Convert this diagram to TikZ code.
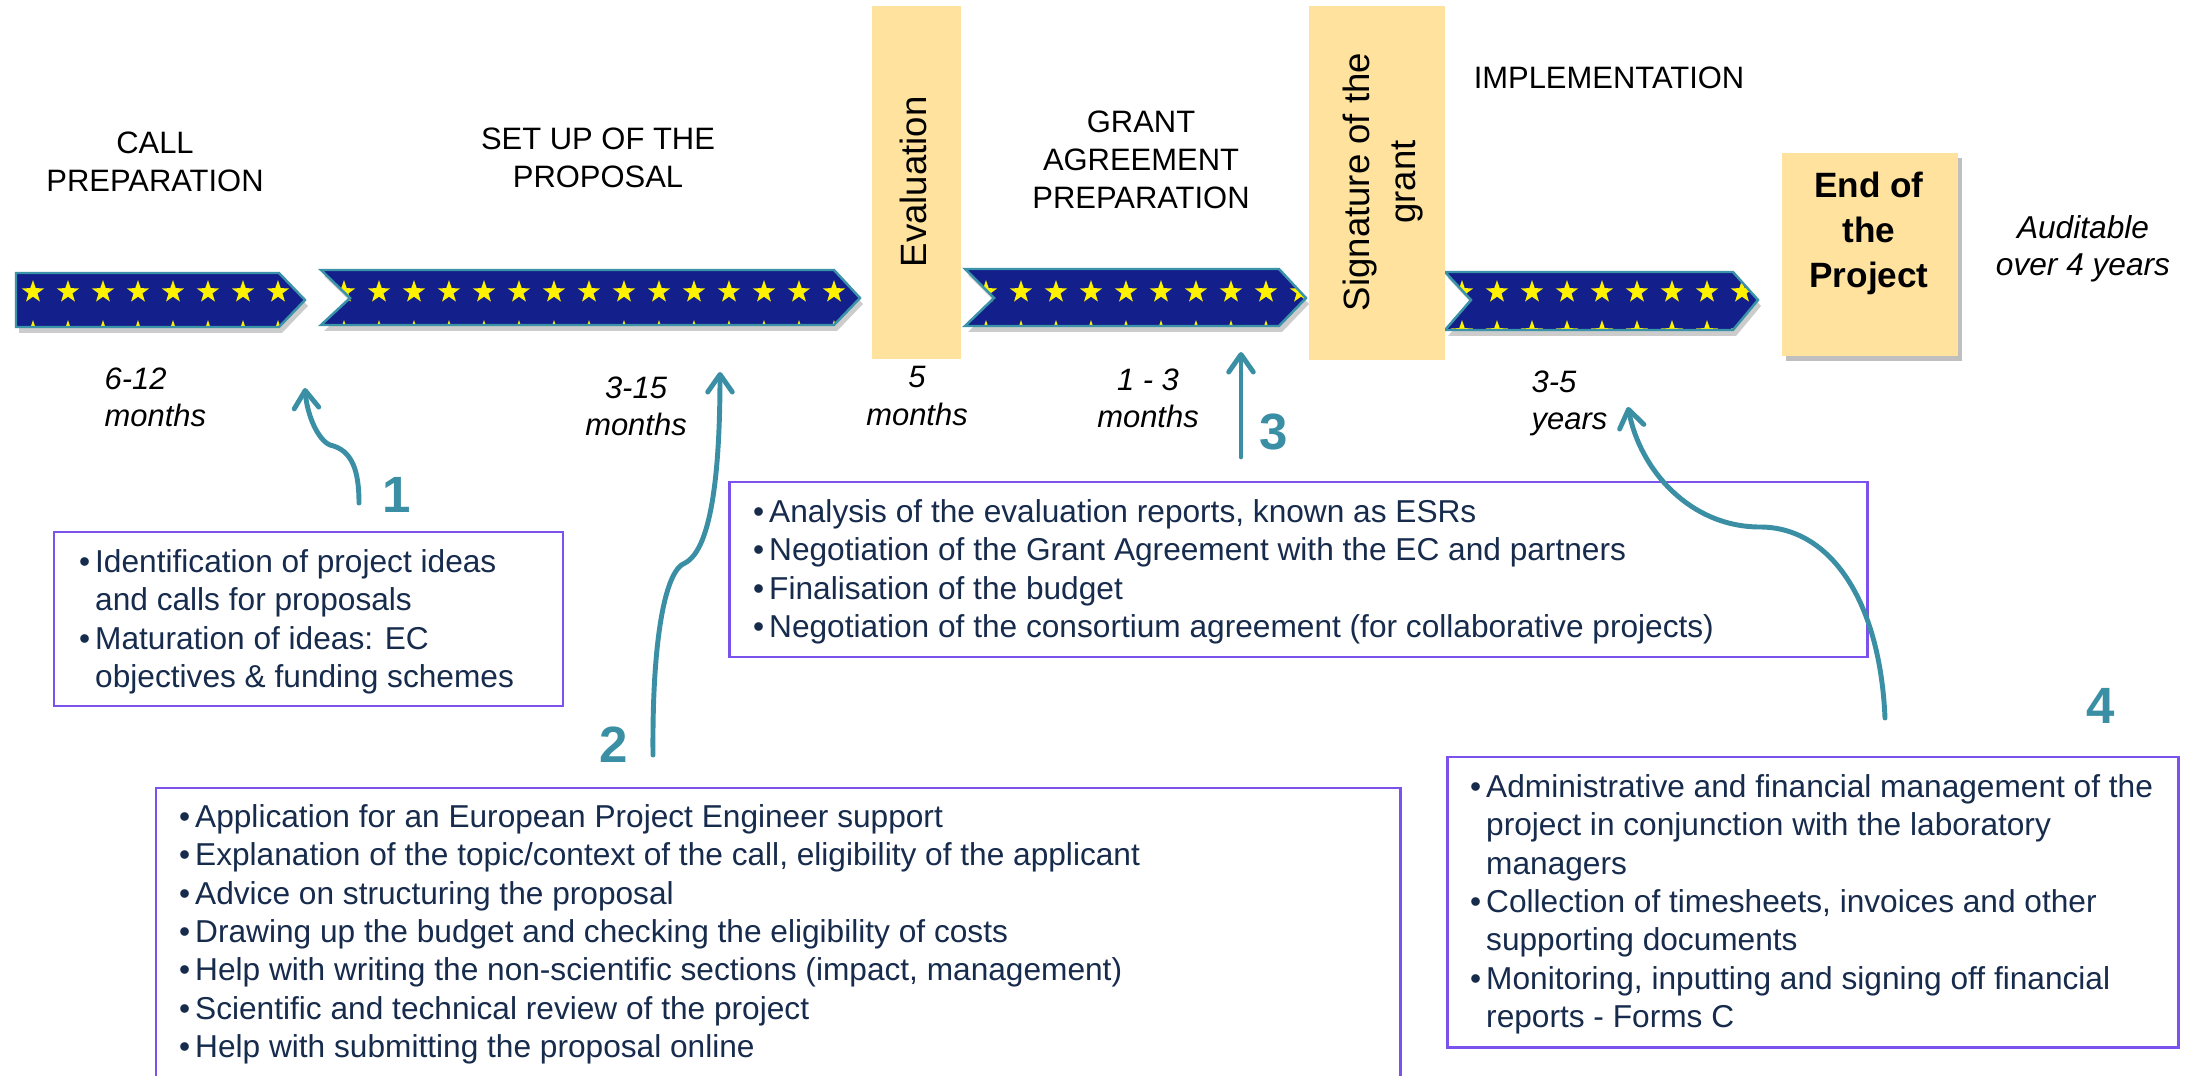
\documentclass[tikz,border=0pt]{standalone}
\usepackage{fontspec}
\setmainfont{Liberation Sans}
\usetikzlibrary{arrows.meta}
\definecolor{chevblue}{HTML}{131F8A}
\definecolor{chevedge}{HTML}{3A93A8}
\definecolor{staryel}{HTML}{FFF200}
\definecolor{boxyel}{HTML}{FFE29E}
\definecolor{purp}{HTML}{7B52EE}
\definecolor{navytxt}{HTML}{172B4D}
\definecolor{tealarr}{HTML}{3A8FA5}
\definecolor{tealdark}{HTML}{1F6F86}
\newcommand\fhead{\fontsize{8.8}{10.9}\selectfont}
\newcommand\fbody{\fontsize{9}{10.9}\selectfont}
\newcommand\fdur{\fontsize{8.8}{10.7}\selectfont\itshape}
\newcommand\frot{\fontsize{10.4}{13}\selectfont}
\newcommand\fendp{\fontsize{10}{12.8}\selectfont\bfseries}
\newcommand\faud{\fontsize{9}{10.5}\selectfont\itshape}
\newcommand\fnum{\fontsize{14.5}{14.5}\selectfont\bfseries}
\newcommand\bitem{\makebox[0.16cm][l]{\textbullet}}
\newcommand\bcont{\hspace*{0.16cm}}
\newcommand\eustar[2]{\fill[staryel] (#1,#2) +(90:0.118cm) -- +(126:0.047cm) -- +(162:0.118cm) -- +(198:0.047cm) -- +(234:0.118cm) -- +(270:0.047cm) -- +(306:0.118cm) -- +(342:0.047cm) -- +(18:0.118cm) -- +(54:0.047cm) -- cycle;}
% #1 left, #2 notch, #3 slant start, #4 tip, #5 top, #6 bottom, #7 mid, #8 first star x, #9 star count
\newcommand\drawchev[9]{%
  \begin{scope}[shift={(3,6)}]
    \fill[black,opacity=.2] (#1,#5) -- (#3,#5) -- (#4,#7) -- (#3,#6) -- (#1,#6) -- (#2,#7) -- cycle;
  \end{scope}
  \fill[chevblue] (#1,#5) -- (#3,#5) -- (#4,#7) -- (#3,#6) -- (#1,#6) -- (#2,#7) -- cycle;
  \begin{scope}
    \clip (#1,#5) -- (#3,#5) -- (#4,#7) -- (#3,#6) -- (#1,#6) -- (#2,#7) -- cycle;
    \foreach \k in {0,...,#9} {\pgfmathsetmacro\sx{#8+35*\k}\eustar{\sx}{292}\eustar{\sx}{332}}
  \end{scope}
  \draw[chevedge, line width=0.7pt, line join=miter] (#1,#5) -- (#3,#5) -- (#4,#7) -- (#3,#6) -- (#1,#6) -- (#2,#7) -- cycle;
}
\tikzset{
  ybox/.style={rectangle, fill=boxyel, draw=none, inner sep=0pt},
  head/.style={font=\fhead, align=center, inner sep=0pt, anchor=north},
  dur/.style={font=\fdur, align=center, inner sep=0pt, anchor=north},
  rotlbl/.style={font=\frot, rotate=90, align=center, inner sep=0pt},
  endlbl/.style={font=\fendp, align=center, inner sep=0pt, anchor=north},
  aud/.style={font=\faud, align=center, inner sep=0pt, anchor=north},
  num/.style={font=\fnum, text=tealarr, inner sep=0pt},
  pbox/.style={draw=purp, line width=0.85pt},
  btxt/.style={font=\fbody, text=navytxt, align=left, inner sep=0pt, anchor=north west},
  tarr/.style={draw=tealarr, line width=1.4pt, line cap=round, -{Straight Barb[length=5pt,width=7pt,round]}}
}
\begin{document}
\begin{tikzpicture}[x=0.01cm, y=-0.01cm]
\useasboundingbox (0,0) rectangle (2193,1076);
\fill[white] (0,0) rectangle (2193,1076);

% timeline chevrons
\drawchev{16}{16}{279}{305}{273}{327}{300}{33}{7}
\drawchev{321}{350}{834}{860}{270}{325}{298}{344}{14}
\drawchev{965}{994}{1279}{1306}{269}{326}{298}{986}{9}
\drawchev{1445}{1471}{1733}{1758}{272}{330}{300}{1462}{8}

% milestone boxes
\node[ybox, minimum width=0.89cm, minimum height=3.53cm, anchor=north west] (evalbox) at (871,5) {};
\node[rotlbl] (evaltxt) at (913,182) {Evaluation};
\node[ybox, minimum width=1.36cm, minimum height=3.54cm, anchor=north west] (signbox) at (1308,5) {};
\node[rotlbl] (signtxt) at (1383,182) {Signature of the\\grant};
\fill[black, opacity=.25] (1786,158) rectangle (1962,361);
\node[ybox, minimum width=1.76cm, minimum height=2.03cm, anchor=north west] (endbox) at (1781,152) {};
\node[endlbl] (endtxt) at (1869,171.5) {End of\\the\\Project};
\node[aud] (audit) at (2083,215) {Auditable\\over 4 years};

% phase headings
\node[head] (callh) at (155,131) {CALL\\PREPARATION};
\node[head] (setuph) at (598,127) {SET UP OF THE\\PROPOSAL};
\node[head] (granth) at (1141,110) {GRANT\\AGREEMENT\\PREPARATION};
\node[head] (implh) at (1609,66) {IMPLEMENTATION};

% durations
\node[dur, align=left, anchor=north west] (d1) at (104,367) {6-12\\months};
\node[dur] (d2) at (636,376) {3-15\\months};
\node[dur] (d3) at (917,366) {5\\months};
\node[dur] (d4) at (1148,368) {1 - 3\\months};
\node[dur, align=left, anchor=north west] (d5) at (1531,370) {3-5\\years};

% numbers
\node[num] (n1) at (397,495) {1};
\node[num] (n2) at (614,745) {2};
\node[num] (n3) at (1274,432) {3};
\node[num] (n4) at (2101,706) {4};

% info boxes
\draw[pbox] (54,532) rectangle (563,706);
\node[btxt] (t1) at (78.5,549) {\bitem Identification of project ideas\\\bcont and calls for proposals\\\bitem Maturation of ideas: EC\\\bcont objectives \& funding schemes};

\draw[pbox] (156,1076) |- (1400,788) -- (1400,1076);
\node[btxt] (t2) at (178.5,804) {\bitem Application for an European Project Engineer support\\\bitem Explanation of the topic/context of the call, eligibility of the applicant\\\bitem Advice on structuring the proposal\\\bitem Drawing up the budget and checking the eligibility of costs\\\bitem Help with writing the non-scientific sections (impact, management)\\\bitem Scientific and technical review of the project\\\bitem Help with submitting the proposal online};

\draw[pbox] (729,482) rectangle (1867,657);
\node[btxt] (t3) at (752.5,499) {\bitem Analysis of the evaluation reports, known as ESRs\\\bitem Negotiation of the Grant Agreement with the EC and partners\\\bitem Finalisation of the budget\\\bitem Negotiation of the consortium agreement (for collaborative projects)};

\draw[pbox] (1447,757) rectangle (2178,1047);
\node[btxt] (t4) at (1469.5,774) {\bitem Administrative and financial management of the\\\bcont project in conjunction with the laboratory\\\bcont managers\\\bitem Collection of timesheets, invoices and other\\\bcont supporting documents\\\bitem Monitoring, inputting and signing off financial\\\bcont reports - Forms C};

% arrows
\coordinate (a1s) at (359,503); \coordinate (a1e) at (305,388);
\draw[tarr] (a1s) .. controls (359,470) and (352,450) .. (330,445) .. controls (318,440) and (307,415) .. (a1e);
\coordinate (a2s) at (653,755); \coordinate (a2e) at (720,372);
\draw[tarr] (a2s) .. controls (652,640) and (665,570) .. (685,563) .. controls (710,550) and (720,480) .. (a2e);
\coordinate (a3s) at (1241,457); \coordinate (a3e) at (1241,352);
\draw[tarr] (a3s) -- (a3e);
\coordinate (a4s) at (1885,718); \coordinate (a4e) at (1628,407);
\draw[tarr] (a4s) .. controls (1880,600) and (1830,527) .. (1760,527) .. controls (1690,527) and (1640,470) .. (a4e);
\end{tikzpicture}
\end{document}
